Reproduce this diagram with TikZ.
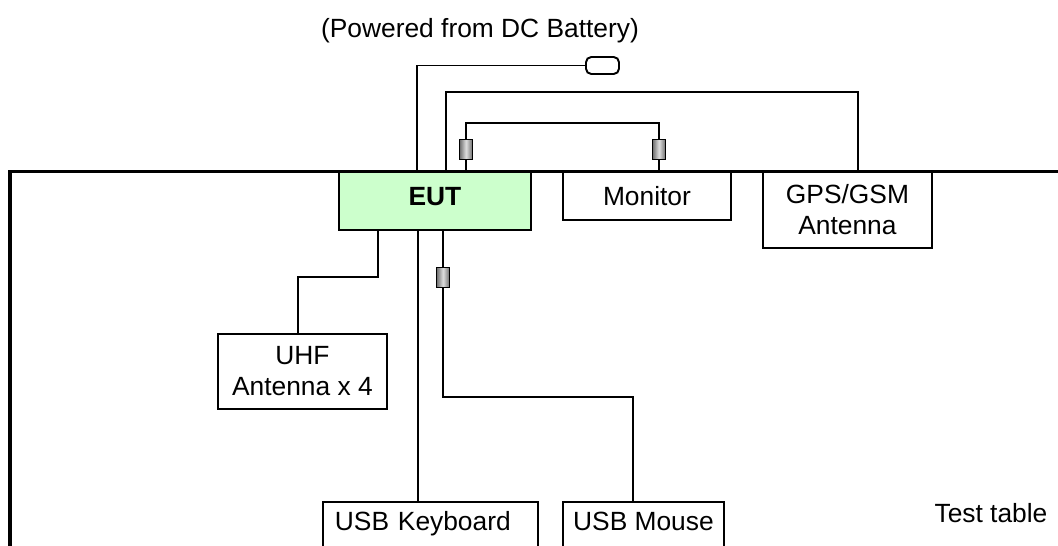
\documentclass[tikz,border=0pt]{standalone}
\usepackage{xcolor}
\usepackage{fontspec}
\setmainfont{Liberation Sans}
\usepackage{tikz}
\usetikzlibrary{positioning, calc}
\definecolor{eutgreen}{HTML}{CCFFCC}

\begin{document}
\begin{tikzpicture}[
    x=0.02cm, y=-0.02cm,
    box/.style={rectangle, draw, line width=1.1pt, fill=white, anchor=north west, align=center, inner sep=0pt, font=\fontsize{15}{17.6}\selectfont},
    eutbox/.style={box, fill=eutgreen, font=\fontsize{15}{17.6}\selectfont\bfseries},
    openbox/.style={box, align=left, inner ysep=0pt, text height=0.57cm, text depth=1cm},
    ferrite/.style={rectangle, draw, line width=1.1pt, minimum width=0.26cm, minimum height=0.4cm, inner sep=0pt,
                    left color=gray!85!black, right color=gray!85!black, middle color=gray!25},
    plugbox/.style={rectangle, draw, line width=1.1pt, rounded corners=3pt, minimum width=0.66cm, minimum height=0.34cm, inner sep=0pt},
    cable/.style={line width=1.1pt},
    tableline/.style={line width=1.8pt},
    txt/.style={font=\fontsize{15}{17.6}\selectfont}
]
\useasboundingbox (0,0) rectangle (1058,545);

% Equipment
\node[eutbox, minimum width=3.84cm, minimum height=1.16cm, text depth=0.2cm] (eut) at (338,171) {EUT};
\node[box, minimum width=3.36cm, minimum height=0.96cm] (monitor) at (562,171) {Monitor};
\node[box, minimum width=3.38cm, minimum height=1.52cm] (gps) at (762,171) {GPS/GSM\\Antenna};
\node[box, minimum width=3.38cm, minimum height=1.5cm] (uhf) at (217,333) {UHF\\Antenna x 4};
\node[openbox, text width=3.82cm, inner xsep=0.24cm] (kbd) at (322,501) {USB Keyboard};
\node[openbox, minimum width=3.22cm] (mouse) at (562,501) {USB Mouse};

% Plug and ferrites
\node[plugbox] (plug) at (602.5,65.5) {};
\node[ferrite] (ferA) at (466,149.5) {};
\node[ferrite] (ferB) at (659,149.5) {};
\node[ferrite] (ferC) at (443,277.5) {};

% Labels
\node[txt] (battery) at (480,31) {(Powered from DC Battery)};
\node[txt] (table) at (991,513) {Test table};

% Cables above the table
\draw[cable] ($(eut.north west)+(79,0)$) |- (plug.west);
\draw[cable] ($(eut.north west)+(108,0)$) -- ++(0,-79) -| ($(gps.north west)+(96,0)$);
\draw[cable] ($(eut.north west)+(128,0)$) -- (ferA.south);
\draw[cable] (ferA.north) -- ++(0,-16) -| (ferB.north);
\draw[cable] (ferB.south) -- (monitor.north -| ferB);

% Cables below the EUT
\coordinate (kbdport) at ($(eut.south west)+(80,0)$);
\draw[cable] ($(eut.south west)+(40,0)$) -- ++(0,46) -| ($(uhf.north west)+(81,0)$);
\draw[cable] (kbdport) -- (kbdport |- kbd.north);
\draw[cable] (ferC.north |- eut.south) -- (ferC.north);
\draw[cable] (ferC.south) -- ++(0,108.5) -| ($(mouse.north west)+(71,0)$);

% Test table
\draw[tableline] (10,560) -- (10,171.5) -- (1060,171.5);
\end{tikzpicture}
\end{document}
